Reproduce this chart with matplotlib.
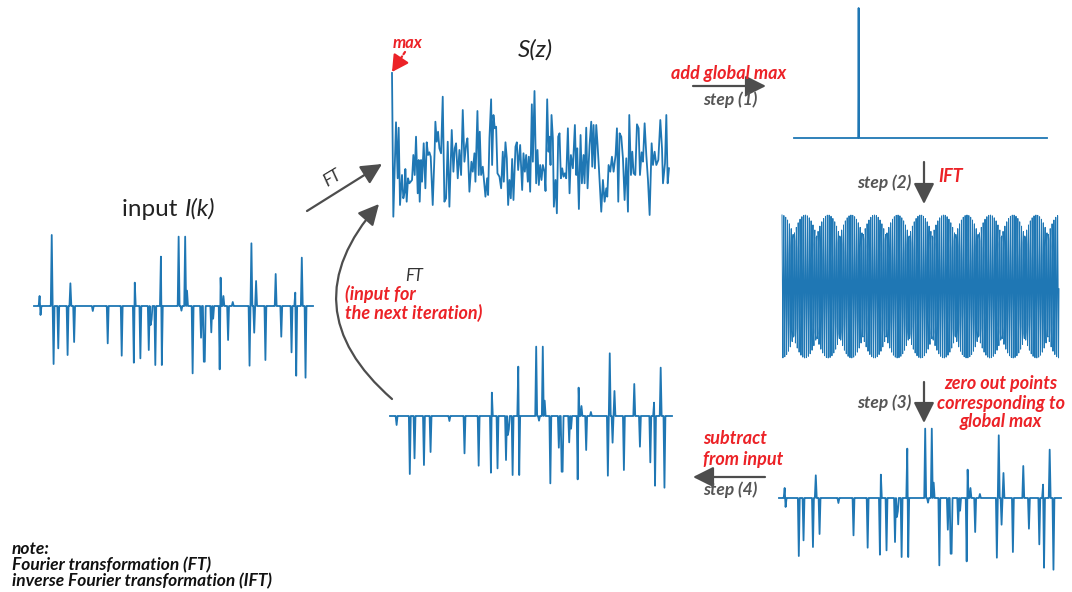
import numpy as np
import matplotlib.pyplot as plt
from matplotlib.patches import FancyArrowPatch

plt.rcParams["font.family"] = ["Lato", "DejaVu Sans"]
plt.rcParams["path.simplify"] = False

W, H = 1072, 592
BLUE = "#1f77b4"
RED = "#ec2227"
GREY = "#4d4d4d"

# sparse input signal I(k): sample index and amplitude of each spike
n_samples = 300
spike_k = [6, 7, 19, 21, 26, 36, 39, 43, 63, 79,
           94, 107, 108, 114, 123, 125, 126, 130, 136, 137,
           155, 158, 162, 164, 170, 179, 182, 183, 190, 192,
           199, 200, 203, 208, 213, 231, 233, 236, 238, 248,
           259, 265, 276, 280, 281, 287, 291]
spike_amp = [0.30, -0.27, 2.13, -1.74, -1.27, -1.47, 0.68, -1.08, -0.15, -1.12,
             -1.49, -1.70, 0.70, -1.57, -1.32, -0.57, -0.40, -1.77, 1.48, -1.77,
             2.08, -0.14, 2.08, 0.46, -2.02, -0.95, -1.67, -1.67, -0.79, -0.38,
             -1.90, 0.85, 0.30, -1.02, 0.12, -1.79, 1.88, -0.80, 0.75, -1.62,
             0.96, -0.92, -1.39, 0.40, -2.09, 1.45, -2.15]

# samples zeroed after step (3), and removed in the subtracted residual
zeroed_k = [19]
residual_removed_k = [6, 19, 39]

# spectrum S(z): turning points of the magnitude curve
s_z = [0.0, 1.33, 4.0, 5.67, 6.67, 8.0, 10.0, 11.33, 12.67, 13.33, 14.67, 16.0, 17.33, 18.67, 20.0,
       21.33, 22.67, 24.0, 25.67, 26.67, 27.67, 29.0, 30.0, 31.67, 33.33, 34.67, 36.0, 37.33, 38.67,
       40.67, 42.67, 43.33, 44.67, 46.0, 47.33, 49.0, 50.67, 52.33, 54.0, 55.67, 57.33, 59.67, 61.33,
       62.67, 64.0, 65.67, 67.33, 69.0, 70.67, 72.33, 74.0, 75.33, 77.33, 79.33, 80.67, 82.33, 83.33,
       85.33, 86.67, 87.67, 89.0, 90.67, 93.33, 95.0, 96.0, 97.33, 99.0, 100.0, 101.33, 102.67, 104.0,
       105.33, 107.33, 109.0, 110.67, 111.67, 113.33, 114.67, 116.0, 117.33, 118.67, 120.0, 121.33,
       123.33, 124.67, 126.0, 128.0, 130.0, 131.33, 132.67, 134.0, 135.67, 136.67, 138.0, 139.67,
       140.67, 142.33, 144.0, 145.33, 146.67, 148.0, 149.33, 150.67, 152.33, 153.33, 155.0, 156.33,
       157.33, 158.33, 159.33, 160.67, 161.67, 163.33, 164.67, 166.0, 167.33, 168.67, 170.0, 171.33,
       172.67, 174.0, 175.67, 177.33, 178.67, 180.67, 182.67, 184.0, 185.0, 186.67, 188.33, 189.67,
       191.33, 192.33, 194.0, 195.33, 197.33, 199.0, 200.0, 201.33, 202.67, 204.0, 205.33, 206.67,
       209.0, 210.67, 212.33, 214.0, 215.0, 216.33, 218.0, 219.67, 221.33, 223.33, 224.67, 226.0,
       227.33, 229.0, 230.67, 232.33, 234.0, 235.67, 237.0, 238.67, 240.0, 241.33, 243.0, 244.67,
       246.33, 247.67, 249.33, 250.67, 252.33, 254.0, 255.67, 257.33, 259.33, 260.67, 262.33, 264.0,
       266.0, 268.0, 269.67, 270.67, 272.67, 274.0, 275.33, 276.67]
s_mag = [14.7, 0.33, 9.77, 4.17, 9.23, 1.5, 4.5, 2.17, 2.83, 5.1, 1.83, 4.17, 3.67, 3.83, 4.0,
         6.5, 4.5, 8.33, 2.67, 6.0, 1.83, 6.0, 3.83, 7.67, 3.17, 7.77, 6.5, 6.77, 6.33,
         1.5, 7.17, 9.83, 7.83, 8.83, 7.17, 6.67, 12.33, 1.83, 2.17, 7.83, 1.33, 9.0, 4.83,
         7.17, 7.67, 4.17, 7.0, 4.5, 11.0, 5.83, 7.5, 8.17, 2.83, 5.83, 4.83, 6.67, 3.83,
         10.9, 4.5, 8.83, 4.5, 5.33, 2.33, 4.17, 2.5, 8.17, 12.07, 5.5, 10.5, 9.17, 9.33,
         4.67, 4.33, 3.17, 6.83, 3.83, 7.77, 6.17, 1.5, 4.0, 2.17, 6.1, 2.0,
         7.33, 7.77, 5.0, 7.5, 3.0, 6.67, 4.83, 6.5, 3.83, 6.33, 2.83, 11.57,
         5.83, 12.9, 3.67, 7.0, 3.5, 5.5, 4.0, 5.5, 4.83, 2.9, 12.07, 6.83,
         8.33, 5.5, 10.5, 8.17, 1.33, 4.0, 0.67, 8.33, 8.67, 4.17, 5.17, 4.33,
         4.67, 4.17, 9.17, 2.67, 6.5, 5.17, 9.5, 4.5, 7.17, 1.1, 8.5, 3.67,
         6.5, 3.67, 9.23, 3.17, 7.5, 9.83, 5.33, 9.5, 5.17, 9.5, 7.5, 5.17,
         0.83, 4.0, 1.83, 3.17, 2.33, 5.5, 4.83, 6.33, 4.83, 6.5, 9.17, 1.83,
         8.67, 8.33, 6.17, 2.0, 6.17, 0.83, 10.5, 4.5, 6.83, 4.67, 4.5, 9.57,
         9.17, 4.5, 6.77, 5.83, 9.67, 6.5, 4.0, 0.5, 7.67, 5.5, 6.83, 5.5,
         6.0, 10.0, 7.17, 3.67, 5.67, 10.5, 3.67, 5.17]

# step (1): spectrum holding only the global max
n_spec = 600
peak_bin = 153
peak_height = 1.0


def spikes(remove=()):
    sig = np.zeros(n_samples)
    for k, a in zip(spike_k, spike_amp):
        if k not in remove:
            sig[k] = a
    return sig


input_sig = spikes()
zeroed_sig = spikes(zeroed_k)
residual_sig = spikes(residual_removed_k)

peak_spec = np.zeros(n_spec)
peak_spec[peak_bin] = peak_height
ift_sig = np.fft.ifft(peak_spec).real

fig = plt.figure(figsize=(W / 100, H / 100), dpi=100)

# overlay in pixel units for text and arrows
ov = fig.add_axes([0, 0, 1, 1])
ov.set_xlim(0, W)
ov.set_ylim(H, 0)
ov.axis("off")


def panel(x0, x1, y0, y1):
    ax = fig.add_axes([x0 / W, 1 - y1 / H, (x1 - x0) / W, (y1 - y0) / H])
    ax.axis("off")
    return ax


def draw_spikes(ax, sig):
    ax.plot(np.arange(n_samples), sig, color=BLUE, lw=1.3, clip_on=False)
    ax.set_xlim(0, n_samples - 1)
    ax.set_ylim(-2.3, 2.3)


draw_spikes(panel(34, 313, 229.3, 382.7), input_sig)
draw_spikes(panel(390, 672, 339.3, 492.7), residual_sig)
draw_spikes(panel(779, 1061, 421.3, 574.7), zeroed_sig)

ax_s = panel(392, 669, 73, 220)
ax_s.plot(s_z, s_mag, color=BLUE, lw=1.3, clip_on=False)
ax_s.set_xlim(0, s_z[-1])
ax_s.set_ylim(0, max(s_mag))

ax_p = panel(794, 1047, 8, 138)
ax_p.plot(np.arange(n_spec), peak_spec, color=BLUE, lw=1.3, clip_on=False)
ax_p.set_xlim(0, n_spec - 1)
ax_p.set_ylim(0, peak_height)

ax_i = panel(782, 1059, 215, 358)
ax_i.plot(np.arange(n_spec), ift_sig, color=BLUE, lw=0.7, clip_on=False)
ax_i.set_xlim(0, n_spec - 1)
ax_i.set_ylim(ift_sig.min(), ift_sig.max())


def arrow(p0, p1, rad=0.0, color=GREY, style="-|>,head_length=0.7,head_width=0.35", ls="-"):
    a = FancyArrowPatch(p0, p1, arrowstyle=style,
                        connectionstyle=f"arc3,rad={rad}", mutation_scale=18,
                        color=color, lw=1.6, linestyle=ls, shrinkA=0, shrinkB=0)
    ov.add_patch(a)


def lines(x, ys, texts, **kw):
    for y, t in zip(ys, texts):
        ov.text(x, y, t, va="center", **kw)


red_kw = dict(color=RED, fontweight="bold", style="italic", fontsize=13)
step_kw = dict(color="#555555", fontweight="bold", style="italic", fontsize=12.5)

# input and first FT
ov.text(184, 209, "input ", fontsize=17.5, ha="right", va="center", color="#222222")
ov.text(185, 209, "I(k)", fontsize=17.5, style="italic", ha="left", va="center", color="#222222")
arrow((307, 211), (382, 164))
ov.text(332, 178, "FT", fontsize=12, style="italic", color="#333333",
        rotation=31, ha="center", va="center")

# spectrum
ov.text(535, 50, "S(z)", fontsize=17.5, style="italic", ha="center", va="center", color="#222222")
ov.text(408, 43, "max", ha="center", va="center", **{**red_kw, "fontsize": 12})
arrow((405, 52), (397, 64), color=RED, style="-", ls=(0, (1.2, 1.2)))
arrow((398, 63), (392, 72), color=RED, style="-|>,head_length=0.55,head_width=0.3")

# step (1)
ov.text(729, 74, "add global max", ha="center", va="center", **red_kw)
arrow((693, 86), (766, 86))
ov.text(730, 100, "step (1)", ha="center", va="center", **step_kw)

# step (2)
arrow((924, 162), (924, 204))
ov.text(884, 183, "step (2)", ha="center", va="center", **step_kw)
ov.text(938, 177, "IFT", ha="left", va="center", **red_kw)

# step (3)
arrow((924, 382), (924, 423))
ov.text(884, 403, "step (3)", ha="center", va="center", **step_kw)
lines(1001, [383, 403, 422], ["zero out points", "corresponding to", "global max"],
      ha="center", **red_kw)

# step (4)
lines(703, [439, 459], ["subtract", "from input"], ha="left", **red_kw)
arrow((765, 477), (693, 477))
ov.text(730, 490, "step (4)", ha="center", va="center", **step_kw)

# loop back for the next iteration
arrow((392, 399), (379, 204), rad=-0.5)
ov.text(414, 276, "FT", fontsize=12, style="italic", color="#333333", ha="center", va="center")
lines(345, [294, 313], ["(input for", "the next iteration)"], ha="left", **red_kw)

lines(12, [549, 565, 581],
      ["note:", "Fourier transformation (FT)", "inverse Fourier transformation (IFT)"],
      ha="left", fontsize=12.5, fontweight="bold", style="italic", color="#111111")

fig.savefig("out.png", dpi=100)
